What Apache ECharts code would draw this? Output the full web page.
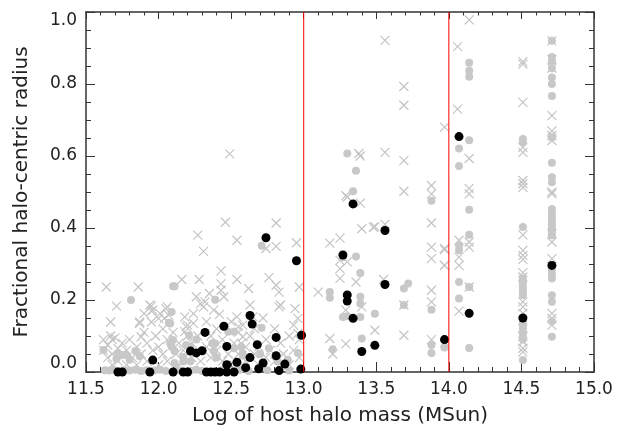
<!DOCTYPE html>
<html>
<head>
<meta charset="utf-8">
<title>halo radius</title>
<script src="https://cdn.jsdelivr.net/npm/echarts@6/dist/echarts.min.js"></script>
<style>
  html, body { margin: 0; padding: 0; background: #fff; }
  #chart { width: 620px; height: 431px; }
</style>
</head>
<body>
<div id="chart"></div>
<script>
// x = log host halo mass, y = fractional halo-centric radius
var blackDots = [
  [12.74,0.373],[12.95,0.309],[12.985,0.102],[12.63,0.157],[12.645,0.133],[12.45,0.127],
  [12.32,0.11],[12.81,0.096],[12.47,0.071],[12.68,0.076],[12.22,0.058],[12.26,0.053],
  [12.30,0.059],[11.96,0.033],[12.54,0.027],[12.63,0.04],[12.81,0.045],[12.87,0.022],
  [12.72,0.025],[12.47,0.02],[12.60,0.012],[12.69,0.009],[12.98,0.008],[12.83,0.004],
  [11.72,0],[11.75,0],[11.94,0],[12.10,0],[12.17,0],[12.20,0],[12.33,0],[12.36,0],
  [12.39,0],[12.42,0],[12.47,0],[12.52,0],
  [13.34,0.467],[13.56,0.393],[13.27,0.325],[13.56,0.243],[13.30,0.214],[13.30,0.197],
  [13.34,0.149],[13.49,0.074],[13.40,0.057],[13.97,0.09],[14.14,0.163],[14.51,0.15],
  [14.71,0.296],[14.07,0.654]
];

var grayDots = [
  [14.14,0.859],[14.14,0.837],[14.14,0.82],[14.14,0.644],[14.14,0.451],[14.14,0.381],
  [14.14,0.236],[14.14,0.067],[14.07,0.621],[14.07,0.572],[14.07,0.352],[14.07,0.338],
  [14.07,0.25],[14.07,0.204],[13.97,0.068],
  [14.51,0.647],[14.51,0.638],[14.51,0.403],[14.51,0.26],[14.51,0.25],[14.51,0.24],
  [14.51,0.23],[14.51,0.22],[14.51,0.213],[14.51,0.14],[14.51,0.13],[14.51,0.12],
  [14.51,0.11],[14.51,0.1],[14.51,0.09],[14.51,0.033],
  [14.71,0.92],[14.71,0.875],[14.71,0.864],[14.71,0.844],[14.71,0.818],[14.71,0.8],
  [14.71,0.767],[14.71,0.652],[14.71,0.581],[14.71,0.541],[14.71,0.527],[14.71,0.453],
  [14.71,0.44],[14.71,0.43],[14.71,0.42],[14.71,0.41],[14.71,0.4],[14.71,0.39],
  [14.71,0.38],[14.71,0.283],[14.71,0.27],[14.71,0.26],[14.71,0.213],[14.71,0.195],
  [14.71,0.141],[14.71,0.098],
  [13.30,0.607],[13.36,0.559],[13.34,0.502],[13.88,0.476],[13.27,0.319],[13.36,0.321],
  [13.39,0.275],[13.18,0.222],[13.18,0.206],[13.39,0.209],[13.39,0.19],[13.49,0.162],
  [13.27,0.153],[13.30,0.155],[13.39,0.153],[13.40,0.093],[13.20,0.063],[13.69,0.232],
  [13.72,0.246],[13.69,0.186],[13.88,0.173],[13.88,0.075],[13.88,0.053],[13.97,0.07],
  [12.71,0.351],[12.10,0.238],[12.11,0.238],[11.81,0.2],[12.08,0.135],[12.09,0.167],
  [12.39,0.201],[12.71,0.123],[12.96,0.053],[12.07,0.137],
  [11.62,0.061],[11.72,0.052],[11.78,0.047],[11.84,0.058],[11.87,0.044],[12.08,0.079],
  [12.11,0.058],[12.17,0.042],[12.22,0.07],[12.26,0.09],[12.37,0.08],[12.38,0.058],
  [12.40,0.04],[12.52,0.112],[12.52,0.066],[12.58,0.052],[12.57,0.07],[12.70,0.05],
  [12.76,0.066],[12.89,0.034],[12.10,0.089],[12.09,0.07],[12.19,0.075],[12.21,0.102],
  [11.75,0.047],[11.71,0.037],[11.80,0.034],[12.17,0.029],[12.11,0.025],[12.48,0.112],
  [12.39,0.079],[12.22,0.03],[12.58,0.046],[12.82,0.029],
  [11.63,0.005],[11.66,0.004],[11.69,0.006],[11.72,0.003],[11.76,0.005],[11.80,0.004],
  [11.84,0.006],[11.88,0.003],[11.92,0.005],[11.97,0.004],[12.01,0.006],[12.05,0.003],
  [12.13,0.005],[12.22,0.004],[12.26,0.006],[12.30,0.003],[12.44,0.005],[12.50,0.004],
  [12.56,0.006],[12.62,0.003],[12.75,0.005],[12.90,0.004]
];

var grayCrosses = [
  [14.14,0.978],[14.06,0.904],[14.06,0.73],[13.97,0.68],[14.14,0.593],[14.14,0.51],
  [14.14,0.495],[14.14,0.361],[14.14,0.347],[14.14,0.236],[14.07,0.366],[14.07,0.319],
  [14.07,0.296],[14.07,0.169],[13.97,0.34],[13.97,0.296],
  [14.51,0.862],[14.51,0.855],[14.51,0.749],[14.51,0.624],[14.51,0.61],[14.51,0.532],
  [14.51,0.523],[14.51,0.513],[14.51,0.381],[14.51,0.338],[14.51,0.324],[14.51,0.313],
  [14.51,0.276],[14.51,0.264],[14.51,0.195],[14.51,0.181],[14.51,0.163],[14.51,0.12],
  [14.51,0.1],[14.51,0.084],[14.51,0.066],[14.51,0.056],
  [14.71,0.92],[14.71,0.868],[14.71,0.844],[14.71,0.712],[14.71,0.67],[14.71,0.657],
  [14.71,0.643],[14.71,0.5],[14.71,0.495],[14.71,0.384],[14.71,0.361],[14.71,0.315],
  [14.71,0.163],[14.71,0.149],[14.71,0.13],
  [13.56,0.921],[13.69,0.793],[13.69,0.741],[13.38,0.607],[13.39,0.6],[13.56,0.61],
  [13.69,0.587],[13.29,0.49],[13.88,0.518],[13.88,0.495],[13.69,0.502],[13.39,0.469],
  [13.30,0.486],[13.88,0.414],[13.88,0.347],[13.97,0.343],[13.18,0.358],[13.25,0.372],
  [13.40,0.398],[13.48,0.402],[13.49,0.404],[13.56,0.41],[13.25,0.31],[13.25,0.287],
  [13.25,0.26],[13.30,0.306],[13.36,0.25],[13.10,0.222],[13.40,0.181],[13.29,0.172],
  [13.49,0.116],[13.18,0.093],[13.29,0.078],[13.20,0.05],[13.55,0.257],[13.69,0.186],
  [13.69,0.102],[13.88,0.227],[13.88,0.195],[13.88,0.09],[13.88,0.315],[13.97,0.296],
  [12.49,0.606],[12.46,0.416],[12.81,0.414],[12.27,0.38],[12.54,0.366],[12.74,0.343],
  [12.81,0.349],[12.95,0.359],[12.31,0.335],[12.43,0.281],[12.16,0.257],[12.28,0.257],
  [12.54,0.257],[12.76,0.262],[11.64,0.236],[11.86,0.236],[12.43,0.245],[12.43,0.227],
  [12.62,0.232],[12.81,0.241],[12.83,0.222],[12.97,0.236],
  [11.71,0.183],[11.67,0.139],[11.67,0.1],[11.68,0.09],[11.95,0.183],[11.95,0.17],
  [11.87,0.139],[11.88,0.098],[12.01,0.162],[12.07,0.158],[12.06,0.181],[12.18,0.153],
  [12.19,0.126],[12.26,0.209],[12.29,0.19],[12.31,0.181],[12.32,0.195],[12.35,0.218],
  [12.45,0.209],[12.38,0.172],[12.54,0.153],[12.55,0.126],[12.58,0.098],[12.57,0.079],
  [12.63,0.186],[12.65,0.153],[12.84,0.186],[12.83,0.181],[12.94,0.176],[12.96,0.149],
  [12.96,0.107],[11.87,0.135],[11.90,0.162],[11.94,0.186],[11.96,0.172],[11.95,0.139],
  [12.00,0.149],[12.05,0.176],[12.04,0.149],[12.18,0.112],[12.24,0.135],[12.24,0.162],
  [11.62,0.06],[11.62,0.09],[11.65,0.04],[11.65,0.075],[11.68,0.02],[11.68,0.05],
  [11.70,0.095],[11.72,0.03],[11.72,0.065],[11.75,0.05],[11.75,0.08],[11.78,0.02],
  [11.78,0.06],[11.80,0.09],[11.82,0.04],[11.85,0.07],[11.85,0.02],[11.88,0.05],
  [11.90,0.11],[11.92,0.03],[11.92,0.08],[11.96,0.06],[11.98,0.1],[12.00,0.02],
  [12.00,0.07],[12.03,0.05],[12.03,0.12],[12.06,0.03],[12.06,0.09],[12.10,0.11],
  [12.12,0.05],[12.14,0.08],[12.14,0.02],[12.17,0.06],[12.20,0.1],[12.20,0.13],
  [12.23,0.04],[12.23,0.08],[12.27,0.1],[12.29,0.03],[12.33,0.07],[12.33,0.14],
  [12.36,0.04],[12.36,0.1],[12.40,0.12],[12.40,0.06],[12.42,0.16],[12.44,0.03],
  [12.44,0.09],[12.48,0.05],[12.50,0.14],[12.52,0.08],[12.52,0.02],[12.55,0.05],
  [12.55,0.11],[12.58,0.13],[12.60,0.07],[12.60,0.03],[12.63,0.1],[12.66,0.05],
  [12.66,0.12],[12.69,0.07],[12.69,0.02],[12.72,0.15],[12.74,0.09],[12.74,0.04],
  [12.77,0.06],[12.80,0.12],[12.80,0.03],[12.84,0.08],[12.86,0.05],[12.90,0.1],
  [12.90,0.02],[12.93,0.06],[12.93,0.13],[12.97,0.04],[12.97,0.09]
];

var xTicks = [11.5, 15.0, 0.5];   // min, max, step
var yTicks = [0.0, 1.0, 0.2];
var cutLines = [13.0, 14.0];

var chart = echarts.init(document.getElementById('chart'));

var font = 'DejaVu Sans';
var axisColor = '#333';

function xAx(pos, labels, major, minor) {
  return {
    type: 'value', position: pos, min: xTicks[0], max: xTicks[1], interval: xTicks[2],
    axisLine: { onZero: false, lineStyle: { color: axisColor, width: 1.5 } },
    axisTick: { inside: true, length: major, lineStyle: { color: axisColor } },
    minorTick: { show: true, splitNumber: 5, length: minor, lineStyle: { color: axisColor } },
    splitLine: { show: false },
    axisLabel: {
      show: labels, margin: 9, fontSize: 17, fontFamily: font, color: '#222',
      formatter: function (v) { return v.toFixed(1) }
    }
  }
}

function yAx(pos, labels) {
  return {
    type: 'value', position: pos, min: yTicks[0], max: yTicks[1], interval: yTicks[2],
    axisLine: { onZero: false, lineStyle: { color: axisColor, width: 1.5 } },
    axisTick: { inside: true, length: 9, lineStyle: { color: axisColor } },
    minorTick: { show: true, splitNumber: 4, length: 5, lineStyle: { color: axisColor } },
    splitLine: { show: false },
    axisLabel: {
      show: labels, margin: 9, fontSize: 17, fontFamily: font, color: '#222',
      verticalAlignMinLabel: 'bottom', verticalAlignMaxLabel: 'top',
      formatter: function (v) { return v.toFixed(1) }
    }
  }
}

var bottomX = xAx('bottom', true, 10, 5);
bottomX.name = 'Log of host halo mass (MSun)';
bottomX.nameLocation = 'middle';
bottomX.nameGap = 34;
bottomX.nameTextStyle = { fontSize: 20, fontFamily: font, color: '#222' };

var leftY = yAx('left', true);
leftY.name = 'Fractional halo-centric radius';
leftY.nameLocation = 'middle';
leftY.nameGap = 54;
leftY.nameTextStyle = { fontSize: 20, fontFamily: font, color: '#222' };

// vertical red cuts as plain line series
var cutSeries = cutLines.map(function (v) {
  return {
    type: 'line', data: [[v, yTicks[0]], [v, yTicks[1]]],
    symbol: 'none', silent: true, z: 5,
    lineStyle: { color: '#ff0000', width: 1, opacity: 1 }
  }
});

chart.setOption({
  animation: false,
  backgroundColor: '#fff',
  grid: { left: 86, right: 26, top: 12, bottom: 59 },
  xAxis: [bottomX, xAx('top', false, 7, 3.5)],
  yAxis: [leftY, yAx('right', false)],
  series: [
    {
      name: 'crosses', type: 'scatter', data: grayCrosses,
      symbol: 'path://M0 0L10 10M10 0L0 10', symbolSize: 9,
      itemStyle: { color: 'none', borderColor: '#c4c4c4', borderWidth: 1.2, opacity: 1 },
      clip: true
    },
    {
      name: 'gray', type: 'scatter', data: grayDots,
      symbol: 'circle', symbolSize: 8,
      itemStyle: { color: '#c8c8c8', opacity: 1 },
      clip: true
    },
    {
      name: 'black', type: 'scatter', data: blackDots,
      symbol: 'circle', symbolSize: 9,
      itemStyle: { color: '#000', opacity: 1 },
      clip: true
    }
  ].concat(cutSeries)
})
window.onresize = function () {
  chart.resize()
}
</script>
</body>
</html>
